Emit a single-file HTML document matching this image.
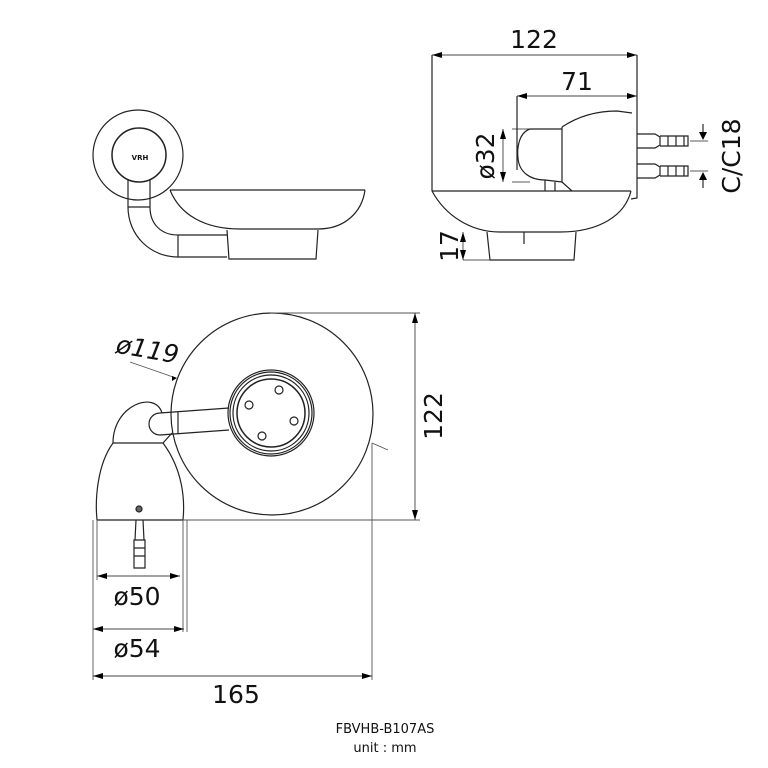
<!DOCTYPE html>
<html><head><style>html,body{margin:0;padding:0;background:#fff}svg{display:block}</style></head>
<body>
<svg width="768" height="768" viewBox="0 0 768 768" xmlns="http://www.w3.org/2000/svg" font-family="'DejaVu Sans', 'Liberation Sans', sans-serif">
<defs>
<marker id="a" viewBox="0 0 10 6" refX="10" refY="3" markerWidth="10" markerHeight="6" orient="auto-start-reverse" markerUnits="userSpaceOnUse"><path d="M0,0L10,3L0,6z" fill="#000"/></marker>
</defs>
<g fill="none" stroke="#222" stroke-width="1.2">
<circle cx="138" cy="155" r="45"/>
<circle cx="139" cy="155" r="27" stroke-width="1.5"/>
<path d="M128,180 V207 M150,180 V207 M128,207 H150"/>
<path d="M128,207 C128,235 150,257 178,257 H227 M150,207 C150,225 162,235 178,235 H227 M178,235 V257"/>
<path d="M170,190 H365 M170,190 C180,215 205,229 240,229 H318 C345,229 362,212 365,190"/>
<path d="M227,230 L229,259 H316 L318,230"/>
<path d="M432,55 V191 M637,55 V113"/>
<path d="M517,96 V170"/>
<path d="M432,191 H631 M432,191 C445,215 470,232 500,232 H560 C600,232 625,215 631,191" />
<path d="M487,232 L490,260 H574 L576,232"/>
<path d="M637,113 V198 L631,199 M562,127 C580,115 600,111 617,111 L632,113"/>
<path d="M562,127 V182 M530,129 H562 M530,129 C518,133 517,150 518,158 C519,172 530,180 545,180 L562,182 M545,180 V191 M555,182 V191 M562,182 L572,191"/>
<path d="M637,134 H655 L660,137 V145 L655,148 H637 M660,136 H688 V146 H660 M668,136 V146 M676,136 V146 M684,136 V146"/>
<path d="M637,164 H655 L660,167 V175 L655,178 H637 M660,166 H688 V176 H660 M668,166 V176 M676,166 V176 M684,166 V176"/>
<path d="M690,141 H708 M690,171 H708" stroke-width="0.8"/>
<path d="M512,129 H530 M512,182 H530" stroke-width="0.8"/>
<path d="M524,232 V244" />
<circle cx="272" cy="414" r="101"/>
<circle cx="271" cy="413" r="43"/>
<circle cx="271" cy="413" r="41"/>
<circle cx="271" cy="413" r="38"/>
<circle cx="271" cy="413" r="34" stroke-width="1.5"/>
<circle cx="279" cy="390" r="4"/><circle cx="249" cy="405" r="4"/><circle cx="294" cy="421" r="4"/><circle cx="262" cy="436" r="4"/>
<path d="M229,408 L160,413 A8,8 0 0 0 160,435 L229,430 M178,412 V434"/>
<path d="M113,443 C113,405 155,390 162,413 M113,443 H163 L172,433"/>
<path d="M113,443 C97,465 95,500 97,520 H183 C185,500 183,470 163,443"/>
<circle cx="139" cy="509" r="3" fill="#666"/>
<path d="M136,520 L135,540 H144 L143,520 M134,540 H145 V568 H134 Z M134,548 H145 M134,556 H145"/>
</g>
<g fill="none" stroke="#555" stroke-width="0.9">
<path d="M270,313 H420 M183,520 H420" />
<path d="M372,443 V680 M93,520 V680 M97,520 V580 M183,520 V632 M187,520 V632"/>
<path d="M130,362 L176,378 M388,450 L372,443"/>
<path d="M463,260 H490"/>
</g>
<g stroke="#444" stroke-width="0.9" marker-start="url(#a)" marker-end="url(#a)">
<line x1="432" y1="55" x2="637" y2="55"/>
<line x1="517" y1="96" x2="637" y2="96"/>
<line x1="503" y1="129" x2="503" y2="182"/>
<line x1="415" y1="313" x2="415" y2="520"/>
<line x1="97" y1="576" x2="180" y2="576"/>
<line x1="93" y1="629" x2="184" y2="629"/>
<line x1="93" y1="676" x2="372" y2="676"/>
<line x1="463" y1="232" x2="463" y2="260"/>
</g>
<path d="M703,124 V134 M703,188 V178" stroke="#000" stroke-width="1"/>
<path d="M699,132 L707,132 L703,140z M699,180 L707,180 L703,172z M172,376 L177,378 L172,381z" fill="#000"/>
<g fill="#111" font-size="25" text-anchor="middle">
<text x="534" y="48">122</text>
<text x="577" y="90">71</text>
<text transform="translate(494,156) rotate(-90)">ø32</text>
<text transform="translate(740,156) rotate(-90)">C/C18</text>
<text transform="translate(458,246) rotate(-90)">17</text>
<text transform="translate(146,358) rotate(10)" font-style="italic">ø119</text>
<text transform="translate(442,416) rotate(-90)">122</text>
<text x="137" y="605">ø50</text>
<text x="137" y="657">ø54</text>
<text x="236" y="703">165</text>
<text x="385" y="733" font-size="13">FBVHB-B107AS</text>
<text x="385" y="752" font-size="13">unit : mm</text>
<text x="140" y="160" font-size="7" font-weight="bold">VRH</text>
</g>
</svg>
</body></html>
